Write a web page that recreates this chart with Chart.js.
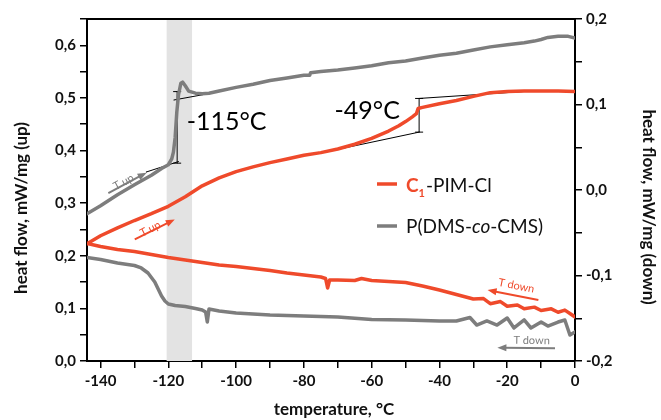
<!DOCTYPE html>
<html>
<head>
<meta charset="utf-8">
<script src="https://cdn.jsdelivr.net/npm/chart.js@4.4.0/dist/chart.umd.min.js"></script>
<style>
  body { margin: 0; background: #fff; }
  #wrap { width: 661px; height: 420px; }
</style>
</head>
<body>
<div id="wrap"><canvas id="dsc"></canvas></div>
<script>
// C1-PIM-Cl, heating run (left axis, mW/mg)
var redUpT  = [-144,-140,-135,-130,-125,-120,-115,-110,-105,-100,-95,-90,-85,-80,-75,-70,-65,-60,-55,-52,-50,-48,-46.8,-46.3,-45,-40,-35,-30,-25,-20,-15,-10,-5,0];
var redUpHF = [0.223,0.238,0.253,0.267,0.280,0.294,0.312,0.333,0.348,0.360,0.369,0.377,0.384,0.391,0.396,0.403,0.412,0.423,0.437,0.447,0.455,0.464,0.470,0.480,0.482,0.489,0.495,0.503,0.510,0.512,0.513,0.513,0.513,0.512];

// P(DMS-co-CMS), heating run (left axis)
var grayUpT  = [-144,-140,-135,-130,-125,-122,-120,-119,-118.5,-118,-117.5,-117,-116.3,-115.8,-115,-114,-112,-110,-108,-105,-100,-95,-90,-85,-80,-78.3,-78,-75,-70,-65,-60,-55,-50,-45,-40,-35,-30,-25,-20,-15,-12,-10,-8,-5,-2,0];
var grayUpHF = [0.280,0.295,0.316,0.335,0.353,0.366,0.373,0.384,0.397,0.424,0.473,0.506,0.528,0.530,0.523,0.513,0.509,0.508,0.509,0.513,0.520,0.526,0.533,0.538,0.543,0.543,0.548,0.550,0.553,0.557,0.561,0.567,0.570,0.576,0.581,0.585,0.591,0.597,0.601,0.605,0.608,0.611,0.615,0.617,0.617,0.614];

// cooling runs (right axis, mW/mg)
var redDownT  = [-144,-140,-135,-130,-125,-120,-115,-110,-105,-100,-95,-90,-85,-80,-75,-73.6,-73,-72.4,-70,-65,-63,-60,-55,-50,-45,-40,-35,-30,-27,-25,-22,-20,-17,-15,-12,-10,-7,-5,-3,-1.5,0];
var redDownHF = [-0.0626,-0.0661,-0.0696,-0.0719,-0.0754,-0.0789,-0.0819,-0.0848,-0.0877,-0.0895,-0.0918,-0.0942,-0.0971,-0.0994,-0.1018,-0.1035,-0.1146,-0.1053,-0.1053,-0.1058,-0.1035,-0.1058,-0.1070,-0.1082,-0.1123,-0.1170,-0.1222,-0.1275,-0.1270,-0.1330,-0.1305,-0.1360,-0.1345,-0.1390,-0.1370,-0.1410,-0.1390,-0.1430,-0.1405,-0.1445,-0.1485];

var grayDownT  = [-144,-140,-135,-130,-128,-126,-124,-123,-122,-121,-120,-118,-115,-112,-110,-109,-108.5,-108,-105,-100,-95,-90,-85,-80,-70,-60,-50,-40,-35,-31,-29,-26,-23,-20,-18,-15,-13,-10,-8,-5,-3,-1.5,0];
var grayDownHF = [-0.0789,-0.0813,-0.0854,-0.0883,-0.0912,-0.0971,-0.1076,-0.1158,-0.1240,-0.1298,-0.1333,-0.1351,-0.1363,-0.1386,-0.1404,-0.1427,-0.1544,-0.1392,-0.1415,-0.1439,-0.1450,-0.1462,-0.1468,-0.1474,-0.1485,-0.1515,-0.1520,-0.1532,-0.1532,-0.1491,-0.1579,-0.1532,-0.1579,-0.1497,-0.1614,-0.1520,-0.1614,-0.1544,-0.1591,-0.1544,-0.1520,-0.1696,-0.1660];

// Tg construction lines (left axis)
var tg115Lower = [[-126.6,0.359],[-117,0.379]];
var tg115Upper = [[-118.4,0.496],[-109.9,0.506]];
var tg115Step  = [[-117.4,0.376],[-117.4,0.512]];
var tg49Lower  = [[-71.6,0.400],[-46,0.435]];
var tg49Upper  = [[-46,0.499],[-15.5,0.512]];
var tg49Step   = [[-46,0.435],[-46,0.499]];

var glassBand = [-120.5, -113];
var tgLabels = [['-115°C', -102.8, 0.454], ['-49°C', -61.3, 0.475]];

var RED = '#ef4a2b';
var GRAY = '#7d7d7d';

function pts(xs, ys) {
  return xs.map(function(x, i) { return {x: x, y: ys[i]}; });
}
function pairs(p) {
  return p.map(function(a) { return {x: a[0], y: a[1]}; });
}
function comma(v) {
  return v.toFixed(1).replace('.', ',');
}

// run-direction arrows: from, to, label centre (axis units)
var arrows = [
  {axis: 'y',  color: GRAY, text: 'T up',   from: [-137.7, 0.319],  to: [-126.4, 0.358],  at: [-133.2, 0.340]},
  {axis: 'y',  color: RED,  text: 'T up',   from: [-129.9, 0.231],  to: [-118.1, 0.269],  at: [-125.3, 0.251]},
  {axis: 'y2', color: RED,  text: 'T down', from: [-10.8, -0.1287], to: [-25.8, -0.1170], at: [-17.3, -0.1120]},
  {axis: 'y2', color: GRAY, text: 'T down', from: [-5.9, -0.1852],  to: [-22.9, -0.1844], at: [-12.8, -0.1760]}
];

function drawArrow(ctx, x0, y0, x1, y1, color) {
  var a = Math.atan2(y1 - y0, x1 - x0);
  var c = Math.cos(a), s = Math.sin(a);
  ctx.strokeStyle = color;
  ctx.fillStyle = color;
  ctx.lineWidth = 2;
  ctx.beginPath();
  ctx.moveTo(x0, y0);
  ctx.lineTo(x1 - 6 * c, y1 - 6 * s);
  ctx.stroke();
  ctx.beginPath();
  ctx.moveTo(x1, y1);
  ctx.lineTo(x1 - 9 * c + 3.5 * s, y1 - 9 * s - 3.5 * c);
  ctx.lineTo(x1 - 9 * c - 3.5 * s, y1 - 9 * s + 3.5 * c);
  ctx.closePath();
  ctx.fill();
  return a;
}

var decor = {
  id: 'decor',
  beforeDatasetsDraw: function(chart) {
    var ctx = chart.ctx, xs = chart.scales.x, area = chart.chartArea;
    var x0 = xs.getPixelForValue(glassBand[0]);
    var x1 = xs.getPixelForValue(glassBand[1]);
    ctx.save();
    ctx.fillStyle = '#e3e3e3';
    ctx.fillRect(x0, area.top, x1 - x0, area.bottom - area.top);
    ctx.restore();
  },
  afterDraw: function(chart) {
    var ctx = chart.ctx, xs = chart.scales.x, area = chart.chartArea;
    ctx.save();

    // top frame
    ctx.strokeStyle = '#000';
    ctx.lineWidth = 2;
    ctx.beginPath();
    ctx.moveTo(area.left, area.top);
    ctx.lineTo(area.right, area.top);
    ctx.stroke();

    // Tg values
    ctx.fillStyle = '#000';
    ctx.font = '25px Lato';
    ctx.textAlign = 'center';
    ctx.textBaseline = 'middle';
    tgLabels.forEach(function(l) {
      ctx.fillText(l[0], xs.getPixelForValue(l[1]), chart.scales.y.getPixelForValue(l[2]));
    });

    // arrows
    arrows.forEach(function(ar) {
      var ys = chart.scales[ar.axis];
      var a = drawArrow(ctx, xs.getPixelForValue(ar.from[0]), ys.getPixelForValue(ar.from[1]),
                        xs.getPixelForValue(ar.to[0]), ys.getPixelForValue(ar.to[1]), ar.color);
      if (a > Math.PI / 2) a -= Math.PI;
      if (a < -Math.PI / 2) a += Math.PI;
      ctx.save();
      ctx.translate(xs.getPixelForValue(ar.at[0]), ys.getPixelForValue(ar.at[1]));
      ctx.rotate(a);
      ctx.fillStyle = ar.color;
      ctx.font = '11px Lato';
      ctx.fillText(ar.text, 0, 0);
      ctx.restore();
    });

    // legend
    ctx.lineWidth = 3.5;
    ctx.textAlign = 'left';
    ctx.strokeStyle = RED;
    ctx.beginPath(); ctx.moveTo(377, 184); ctx.lineTo(397, 184); ctx.stroke();
    ctx.strokeStyle = GRAY;
    ctx.beginPath(); ctx.moveTo(377, 226); ctx.lineTo(397, 226); ctx.stroke();

    ctx.fillStyle = RED;
    ctx.font = 'bold 19px Lato';
    ctx.fillText('C', 406, 186);
    var w = ctx.measureText('C').width;
    ctx.font = 'bold 11px Lato';
    ctx.fillText('1', 406 + w, 193);
    var w1 = ctx.measureText('1').width;
    ctx.fillStyle = '#111';
    ctx.font = '19px Lato';
    ctx.fillText('-PIM-Cl', 406 + w + w1 + 1, 186);

    var px = 406;
    ctx.fillText('P(DMS-', px, 227);
    px += ctx.measureText('P(DMS-').width;
    ctx.font = 'italic 19px Lato';
    ctx.fillText('co', px, 227);
    px += ctx.measureText('co').width;
    ctx.font = '19px Lato';
    ctx.fillText('-CMS)', px, 227);

    // axis titles
    ctx.fillStyle = '#111';
    ctx.font = 'bold 17px Lato';
    ctx.textAlign = 'center';
    ctx.fillText('temperature, °C', (area.left + area.right) / 2 + 3, 410);
    ctx.save();
    ctx.translate(22, 208);
    ctx.rotate(-Math.PI / 2);
    ctx.fillText('heat flow, mW/mg (up)', 0, 0);
    ctx.restore();
    ctx.save();
    ctx.translate(648, 207);
    ctx.rotate(Math.PI / 2);
    ctx.fillText('heat flow, mW/mg (down)', 0, 0);
    ctx.restore();

    ctx.restore();
  }
};

function construction(p, marks) {
  return {
    data: pairs(p), yAxisID: 'y', borderColor: '#000', borderWidth: 1,
    pointRadius: marks ? 4 : 0, pointStyle: 'line', pointBorderColor: '#000',
    pointBorderWidth: 1
  };
}

var tickFont = {family: 'Lato', size: 15, weight: 'bold'};

new Chart(document.getElementById('dsc'), {
  type: 'line',
  data: {
    datasets: [
      {label: 'P(DMS-co-CMS) down', data: pts(grayDownT, grayDownHF), yAxisID: 'y2', borderColor: GRAY, borderWidth: 3.5, pointRadius: 0},
      {label: 'C1-PIM-Cl down', data: pts(redDownT, redDownHF), yAxisID: 'y2', borderColor: RED, borderWidth: 3.5, pointRadius: 0},
      {label: 'P(DMS-co-CMS)', data: pts(grayUpT, grayUpHF), yAxisID: 'y', borderColor: GRAY, borderWidth: 3.5, pointRadius: 0},
      {label: 'C1-PIM-Cl', data: pts(redUpT, redUpHF), yAxisID: 'y', borderColor: RED, borderWidth: 3.5, pointRadius: 0},
      construction(tg115Lower, false),
      construction(tg115Upper, false),
      construction(tg115Step, true),
      construction(tg49Lower, false),
      construction(tg49Upper, false),
      construction(tg49Step, true)
    ]
  },
  options: {
    responsive: true,
    maintainAspectRatio: false,
    animation: false,
    layout: {padding: {top: 19, left: 0, right: 0, bottom: 0}},
    elements: {line: {tension: 0, borderJoinStyle: 'round', borderCapStyle: 'round'}},
    plugins: {legend: {display: false}, tooltip: {enabled: false}},
    scales: {
      x: {
        type: 'linear', position: 'bottom', min: -144, max: 0,
        afterFit: function(s) { s.height = 59; },
        border: {color: '#000', width: 2},
        grid: {drawOnChartArea: false, color: '#000', tickLength: 7, lineWidth: 1.5},
        ticks: {
          stepSize: 10, includeBounds: false, autoSkip: false, maxRotation: 0,
          color: '#111', font: tickFont, padding: 4,
          callback: function(v) { return Math.round(v) % 20 === 0 ? String(Math.round(v)) : ''; }
        }
      },
      y: {
        position: 'left', min: 0, max: 0.65,
        afterFit: function(s) { s.width = 87; },
        border: {color: '#000', width: 2},
        grid: {drawOnChartArea: false, color: '#000', tickLength: 7, lineWidth: 1.5},
        ticks: {
          stepSize: 0.05, autoSkip: false, color: '#111', font: tickFont, padding: 4,
          callback: function(v) { var k = Math.round(v * 100); return k % 10 === 0 ? comma(k / 100) : ''; }
        }
      },
      y2: {
        position: 'right', min: -0.2, max: 0.2,
        afterFit: function(s) { s.width = 86; },
        border: {color: '#000', width: 2},
        grid: {drawOnChartArea: false, color: '#000', tickLength: 7, lineWidth: 1.5},
        ticks: {
          stepSize: 0.05, autoSkip: false, color: '#111', font: tickFont, padding: 4,
          callback: function(v) { var k = Math.round(v * 100); return k % 10 === 0 ? comma(k / 100) : ''; }
        }
      }
    }
  },
  plugins: [decor]
});
</script>
</body>
</html>
